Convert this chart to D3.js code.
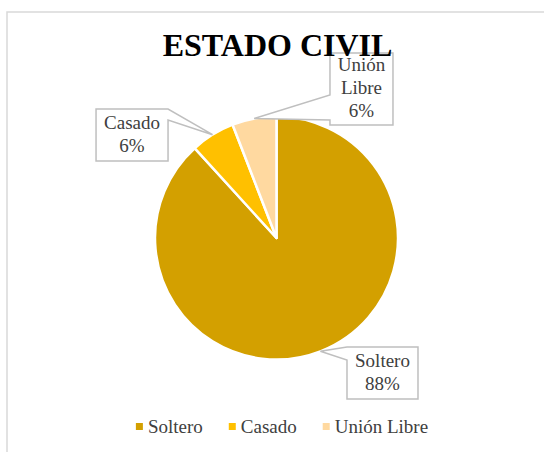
<!DOCTYPE html>
<html>
<head>
<meta charset="utf-8">
<script src="https://cdn.jsdelivr.net/npm/d3@7"></script>
<style>
  html, body { margin: 0; padding: 0; background: #fff; }
  svg { display: block; }
  text { font-family: "Liberation Serif", "DejaVu Serif", "Noto Serif", serif; }
</style>
</head>
<body>
<svg id="chart" width="544" height="452"></svg>
<script>
    var title = "ESTADO CIVIL";
    var categories = ["Soltero", "Casado", "Unión Libre"];
    var counts = [15, 1, 1];
    var colors = ["#D3A000", "#FFC000", "#FFD9A0"];

    // callout boxes, placed relative to the slice edge (pointer tip)
    var callouts = [
        {dx: 26.6, dy: -4.3, w: 71, h: 52, side: "left", b0: 0, b1: 13},
        {dx: -116.5, dy: -25.7, w: 72, h: 52, side: "right", b0: 0, b1: 11},
        {dx: 75.8, dy: -65.6, w: 63, h: 72, side: "left", b0: 42, b1: 67}
    ];

    var svg = d3.select("#chart"),
        cx = 276.5, cy = 238, radius = 121.5,
        textColor = "#404040";

    // chart area border
    svg.append("rect")
        .attr("x", 7).attr("y", 12)
        .attr("width", 600).attr("height", 500)
        .attr("fill", "#fff")
        .attr("stroke", "#d9d9d9")
        .attr("stroke-width", 1.5);

    var total = d3.sum(counts);
    var pct = d3.format(".0%");

    var pie = d3.pie().sort(null).value(function(d) { return d; });
    var arcs = pie(counts);

    var arc = d3.arc().innerRadius(0).outerRadius(radius);

    var g = svg.append("g").attr("transform", "translate(" + cx + "," + cy + ")");

    g.selectAll("path.slice")
        .data(arcs)
        .enter().append("path")
        .attr("class", "slice")
        .attr("d", arc)
        .attr("fill", function(d, i) { return colors[i]; })
        .attr("stroke", "#fff")
        .attr("stroke-width", 2.5)
        .attr("stroke-linejoin", "round");

    // callouts
    var lineH = 23;
    arcs.forEach(function(d, i) {
        var mid = (d.startAngle + d.endAngle) / 2;
        var tx = cx + radius * Math.sin(mid),
            ty = cy - radius * Math.cos(mid);
        var c = callouts[i];
        var x = tx + c.dx, y = ty + c.dy, w = c.w, h = c.h;
        var p;
        if (c.side === "right") {
            p = "M" + x + "," + y + "L" + (x + w) + "," + y +
                "L" + (x + w) + "," + (y + c.b0) + "L" + tx + "," + ty +
                "L" + (x + w) + "," + (y + c.b1) + "L" + (x + w) + "," + (y + h) +
                "L" + x + "," + (y + h) + "Z";
        } else {
            p = "M" + x + "," + y + "L" + (x + w) + "," + y +
                "L" + (x + w) + "," + (y + h) + "L" + x + "," + (y + h) +
                "L" + x + "," + (y + c.b1) + "L" + tx + "," + ty +
                "L" + x + "," + (y + c.b0) + "Z";
        }
        svg.append("path")
            .attr("d", p)
            .attr("fill", "#fff")
            .attr("stroke", "#bfbfbf")
            .attr("stroke-width", 1.5)
            .attr("stroke-linejoin", "miter");

        var lines = categories[i].split(" ").concat(pct(counts[i] / total));
        var y0 = y + (h - lines.length * lineH) / 2 + 17;
        var t = svg.append("text")
            .attr("text-anchor", "middle")
            .attr("font-size", 19)
            .attr("fill", textColor);
        lines.forEach(function(s, k) {
            t.append("tspan")
                .attr("x", x + w / 2)
                .attr("y", y0 + k * lineH)
                .text(s);
        });
    });

    // title
    svg.append("text")
        .attr("x", 277.5)
        .attr("y", 56)
        .attr("text-anchor", "middle")
        .attr("font-weight", "bold")
        .attr("font-size", 32)
        .attr("fill", "#000")
        .text(title);

    // legend
    var legend = svg.append("g");
    var items = legend.selectAll("g")
        .data(categories)
        .enter().append("g");
    items.append("rect")
        .attr("width", 7).attr("height", 7)
        .attr("y", -10)
        .attr("fill", function(d, i) { return colors[i]; });
    items.append("text")
        .attr("x", 12)
        .attr("font-size", 19)
        .attr("fill", textColor)
        .text(function(d) { return d; });

    var offs = [], pos = 0;
    items.each(function() {
        offs.push(pos);
        pos += 12 + d3.select(this).select("text").node().getComputedTextLength() + 26;
    });
    var legW = pos - 26;
    items.attr("transform", function(d, i) { return "translate(" + offs[i] + ",0)"; });
    legend.attr("transform", "translate(" + (282 - legW / 2) + ",433)");
</script>
</body>
</html>
